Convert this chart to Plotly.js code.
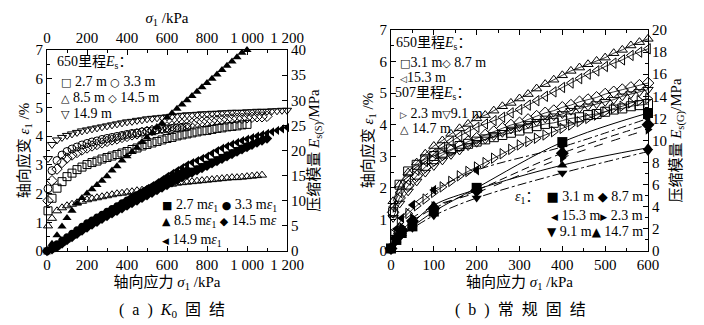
<!DOCTYPE html>
<html><head><meta charset="utf-8">
<script src="https://cdn.plot.ly/plotly-3.0.1.min.js"></script>
<style>html,body{margin:0;padding:0;background:#fff}#chart{width:704px;height:325px}</style>
</head><body><div id="chart"></div>
<script>
// ---------- Panel (a): K0 consolidation ----------
const sigmaEsA = [5,25,50,75,100,125,150,175,200,225,250,275,300,325,350,375,400,425,450,475,500,525,550,575,600,625,650,675,700,725,750,775,800,825,850,875,900,925,950,975,1000,1025,1050,1075,1100,1125,1150,1175,1200];
const sigmaEpsA = [0,25,50,75,100,125,150,175,200,225,250,275,300,325,350,375,400,425,450,475,500,525,550,575,600,625,650,675,700,725,750,775,800,825,850,875,900,925,950,975,1000,1025,1050,1075,1100,1125,1150,1175,1200];

// Es (MPa), right axis
const esA_27 = [8.0,10.5,12.5,13.8,14.8,15.5,16.2,16.7,17.2,17.6,17.9,18.3,18.6,18.9,19.2,19.5,19.8,20.2,20.5,20.9,21.2,21.5,21.8,22.1,22.4,22.6,22.9,23.1,23.3,23.5,23.7,23.9,24.0,24.2,24.4,24.5,24.7,24.8,24.9,25.1,25.2];
const esA_33 = [12.4,16.0,18.0,19.1,19.8,20.3,20.7,21.1,21.4,21.7,21.9,22.2,22.4,22.6,22.8,23.0,23.2,23.4,23.5,23.7,23.8,23.9,24.1,24.2,24.3,24.4,24.5,24.6,24.7];
const esA_85 = [5.0,6.5,8.0,8.6,9.0,9.3,9.6,9.9,10.2,10.4,10.6,10.8,11.0,11.2,11.4,11.5,11.7,11.8,12.0,12.1,12.3,12.5,12.8,13.0,13.2,13.3,13.5,13.6,13.7,13.8,13.9,14.0,14.1,14.2,14.3,14.4,14.5,14.6,14.6,14.7,14.8,14.9,15.0,15.1];
const esA_145 = [10.0,14.0,16.3,17.6,18.5,19.1,19.6,20.1,20.5,20.9,21.2,21.5,21.8,22.1,22.3,22.6,22.8,23.1,23.3,23.6,23.8,24.0,24.3,24.5,24.7,24.9,25.0,25.2,25.3,25.4,25.6,25.7,25.8,25.9,26.0,26.1,26.2,26.3,26.4,26.4,26.5,26.6,26.7,26.7,26.8];
const esA_149 = [18.4,21.2,22.1,22.6,23.0,23.3,23.6,23.9,24.1,24.3,24.5,24.7,24.9,25.1,25.3,25.5,25.7,25.8,26.0,26.1,26.3,26.4,26.5,26.6,26.7,26.8,26.9,27.0,27.1,27.1,27.2,27.3,27.3,27.4,27.4,27.5,27.5,27.6,27.6,27.6,27.7,27.7,27.8,27.8,27.8,27.9,27.9,28.0,28.0];

// axial strain (%), left axis
const epsA_27 = [0,0.08,0.18,0.3,0.42,0.54,0.66,0.78,0.9,1.0,1.1,1.2,1.3,1.39,1.48,1.57,1.66,1.75,1.84,1.93,2.02,2.1,2.18,2.27,2.36,2.45,2.54,2.62,2.7,2.78,2.86,2.94,3.02,3.1,3.18,3.26,3.34,3.42,3.5,3.58,3.65];
const epsA_33 = [0,0.12,0.25,0.38,0.5,0.62,0.74,0.86,0.98,1.08,1.18,1.28,1.38,1.48,1.58,1.68,1.78,1.87,1.96,2.05,2.14,2.23,2.32,2.41,2.5,2.58,2.66,2.74,2.82];
const epsA_85 = [0,0.25,0.55,0.85,1.15,1.4,1.65,1.85,2.0,2.15,2.3,2.45,2.6,2.8,2.95,3.15,3.3,3.45,3.6,3.8,3.95,4.1,4.3,4.45,4.65,4.8,4.95,5.1,5.25,5.4,5.55,5.7,5.85,6.0,6.15,6.3,6.45,6.6,6.75,6.9,7.0];
const epsA_145 = [0,0.06,0.14,0.26,0.38,0.49,0.6,0.71,0.82,0.92,1.02,1.12,1.22,1.31,1.4,1.49,1.58,1.67,1.76,1.85,1.94,2.03,2.12,2.21,2.3,2.39,2.48,2.57,2.65,2.73,2.81,2.89,2.97,3.05,3.13,3.21,3.3,3.38,3.46,3.54,3.62,3.7,3.78,3.85,3.92];
const epsA_149 = [0,0.1,0.2,0.32,0.45,0.57,0.7,0.82,0.95,1.05,1.15,1.25,1.35,1.45,1.56,1.67,1.78,1.88,1.98,2.08,2.18,2.28,2.38,2.49,2.6,2.7,2.8,2.9,3.0,3.08,3.15,3.23,3.3,3.4,3.5,3.58,3.65,3.72,3.78,3.84,3.9,3.95,4.0,4.05,4.1,4.15,4.2,4.25,4.3];

// ---------- Panel (b): conventional consolidation ----------
const sigmaEsB = [5,20,40,60,80,100,120,140,160,180,200,220,240,260,280,300,320,340,360,380,400,420,440,460,480,500,520,540,560,580,600];
const esB_31 = [3.5,6.0,7.2,7.8,8.3,8.6,8.9,9.2,9.5,9.7,9.9,10.1,10.3,10.5,10.7,10.9,11.1,11.3,11.5,11.6,11.8,12.0,12.1,12.3,12.4,12.6,12.8,12.9,13.1,13.2,13.3];
const esB_87 = [3.5,4.8,5.9,6.8,7.6,8.2,8.7,9.1,9.5,9.9,10.2,10.5,10.8,11.1,11.4,11.6,11.9,12.2,12.5,12.7,13.0,13.2,13.5,13.7,13.9,14.2,14.4,14.6,14.8,15.0,15.2];
const esB_153 = [4.0,5.3,6.4,7.3,8.1,8.8,9.4,9.9,10.4,10.8,11.2,11.5,11.8,12.1,12.5,12.8,13.2,13.6,14.0,14.4,14.8,15.2,15.6,16.0,16.3,16.7,17.0,17.3,17.7,18.0,18.3];
const esB_23 = [1.5,2.6,3.4,4.1,4.7,5.3,5.8,6.3,6.8,7.2,7.6,8.0,8.4,8.8,9.2,9.6,9.9,10.2,10.5,10.8,11.1,11.4,11.7,12.0,12.3,12.6,12.9,13.1,13.4,13.6,13.8];
const esB_91 = [3.0,4.3,5.4,6.3,7.1,7.7,8.2,8.7,9.1,9.5,9.8,10.1,10.4,10.7,11.0,11.2,11.5,11.7,12.0,12.2,12.4,12.7,12.9,13.1,13.3,13.5,13.7,14.0,14.2,14.4,14.6];
const esB_147 = [4.5,6.0,7.1,8.0,8.8,9.5,10.0,10.6,11.1,11.5,12.0,12.3,12.7,13.1,13.4,13.8,14.2,14.7,15.1,15.5,15.9,16.3,16.6,16.9,17.2,17.5,17.9,18.2,18.6,18.9,19.2];

const sigmaEpsB = [0,12.5,25,50,100,200,400,600];
const epsB_31 = [0.08,0.35,0.57,0.78,1.25,2.0,3.45,4.37];
const epsB_87 = [0.08,0.4,0.65,0.95,1.35,1.92,3.1,4.0];
const epsB_153 = [0.08,0.7,1.04,1.46,1.93,2.56,3.3,4.2];
const epsB_23 = [0.08,0.45,0.75,1.05,1.42,1.85,2.95,3.85];
const epsB_91 = [0.08,0.3,0.5,0.72,1.12,1.68,2.47,3.15];
const epsB_147 = [0.08,0.35,0.55,0.88,1.45,1.95,2.72,3.27];

const tickA = [0,200,400,600,800,1000,1200];
const tickAText = ['0','200','400','600','800','1 000','1 200'];

// ---------- build ----------
const SERIF = 'Liberation Serif, Noto Sans CJK SC, serif';
const traces = [];
function hollow(xs, ys, sym, xa, ya, size, withLine) {
  traces.push({type:'scatter', mode: withLine ? 'lines+markers' : 'markers',
    x: xs.slice(0, ys.length), y: ys, xaxis: xa, yaxis: ya, cliponaxis:false,
    line:{color:'#000', width:0.8, shape:'spline'},
    marker:{symbol: sym + '-open', size: size, color:'#000', line:{color:'#000', width:1}},
    showlegend:false, hoverinfo:'skip'});
}
function filled(xs, ys, sym, xa, ya, size, dash) {
  traces.push({type:'scatter', mode: dash ? 'lines+markers' : 'markers',
    x: xs.slice(0, ys.length), y: ys, xaxis: xa, yaxis: ya, cliponaxis:false,
    line:{color:'#000', width:1, dash: dash || 'solid', shape:'spline'},
    marker:{symbol: sym, size: size, color:'#000'},
    showlegend:false, hoverinfo:'skip'});
}
// panel (a)
hollow(sigmaEsA, esA_85, 'triangle-up', 'x', 'y2', 8);
hollow(sigmaEsA, esA_27, 'square', 'x', 'y2', 8);
hollow(sigmaEsA, esA_145, 'diamond', 'x', 'y2', 8);
hollow(sigmaEsA, esA_33, 'circle', 'x', 'y2', 8);
hollow(sigmaEsA, esA_149, 'triangle-down', 'x', 'y2', 8);
filled(sigmaEpsA, epsA_145, 'diamond', 'x', 'y', 8);
filled(sigmaEpsA, epsA_33, 'circle', 'x', 'y', 7);
filled(sigmaEpsA, epsA_27, 'square', 'x', 'y', 7);
filled(sigmaEpsA, epsA_149, 'triangle-left', 'x', 'y', 8);
filled(sigmaEpsA, epsA_85, 'triangle-up', 'x2', 'y', 8);
// panel (b)
hollow(sigmaEsB, esB_23, 'triangle-right', 'x3', 'y4', 9, true);
hollow(sigmaEsB, esB_31, 'square', 'x3', 'y4', 9, true);
hollow(sigmaEsB, esB_91, 'triangle-down', 'x3', 'y4', 9, true);
hollow(sigmaEsB, esB_87, 'diamond', 'x3', 'y4', 9, true);
hollow(sigmaEsB, esB_153, 'triangle-left', 'x3', 'y4', 9, true);
hollow(sigmaEsB, esB_147, 'triangle-up', 'x3', 'y4', 9, true);
filled(sigmaEpsB, epsB_31, 'square', 'x3', 'y3', 10, 'solid');
filled(sigmaEpsB, epsB_87, 'diamond', 'x3', 'y3', 10, '8px,4px');
filled(sigmaEpsB, epsB_153, 'triangle-left', 'x3', 'y3', 9, 'dashdot');
filled(sigmaEpsB, epsB_23, 'triangle-right', 'x3', 'y3', 9, 'dash');
filled(sigmaEpsB, epsB_91, 'triangle-down', 'x3', 'y3', 9, 'dashdot');
filled(sigmaEpsB, epsB_147, 'triangle-up', 'x3', 'y3', 9, 'solid');

const W = 704, H = 325;
const px = v => v / W, py = v => 1 - v / H;
const base = {showline:true, linecolor:'#000', linewidth:1, ticks:'inside', ticklen:5, tickcolor:'#000',
  showgrid:false, zeroline:false, tickfont:{family:SERIF, size:15, color:'#000'}};
const tfont = {family:SERIF, size:15, color:'#000'};

const layout = {
  width:W, height:H, margin:{l:0,r:0,t:0,b:0}, paper_bgcolor:'#fff', plot_bgcolor:'rgba(0,0,0,0)',
  font:{family:SERIF, color:'#000'},
  xaxis: Object.assign({}, base, {domain:[px(47), px(287)], anchor:'y', range:[0,1200],
    tickvals:tickA, ticktext:tickAText, minor:{dtick:100, ticks:'inside', ticklen:3, tickcolor:'#000'},
    title:{text:'轴向应力 <i>σ</i><sub>1</sub> /kPa', font:tfont, standoff:2}}),
  xaxis2: Object.assign({}, base, {overlaying:'x', matches:'x', side:'top', anchor:'y', range:[0,1200],
    tickvals:tickA, ticktext:tickAText, minor:{dtick:100, ticks:'inside', ticklen:3, tickcolor:'#000'},
    title:{text:'<i>σ</i><sub>1</sub> /kPa', font:tfont, standoff:2}}),
  yaxis: Object.assign({}, base, {domain:[py(251), py(50)], anchor:'x', range:[0,7], dtick:1,
    minor:{dtick:0.5, ticks:'inside', ticklen:3, tickcolor:'#000'},
    title:{text:'轴向应变 <i>ε</i><sub>1</sub> /%', font:tfont, standoff:2}}),
  yaxis2: Object.assign({}, base, {overlaying:'y', side:'right', anchor:'x', range:[0,40], dtick:5,
    title:{text:'压缩模量 <i>E</i><sub>s(S)</sub>/MPa', font:tfont, standoff:2}}),
  xaxis3: Object.assign({}, base, {domain:[px(391), px(648)], anchor:'y3', range:[0,600], dtick:100, mirror:'ticks',
    minor:{dtick:50, ticks:'inside', ticklen:3, tickcolor:'#000'},
    title:{text:'轴向应力 <i>σ</i><sub>1</sub> /kPa', font:tfont, standoff:2}}),
  yaxis3: Object.assign({}, base, {domain:[py(251), py(30)], anchor:'x3', range:[0,7], dtick:1,
    minor:{dtick:0.5, ticks:'inside', ticklen:3, tickcolor:'#000'},
    title:{text:'轴向应变 <i>ε</i><sub>1</sub> /%', font:tfont, standoff:2}}),
  yaxis4: Object.assign({}, base, {overlaying:'y3', side:'right', anchor:'x3', range:[0,20], dtick:2,
    minor:{dtick:1, ticks:'inside', ticklen:3, tickcolor:'#000'},
    title:{text:'压缩模量 <i>E</i><sub>s(G)</sub>/MPa', font:tfont, standoff:2}}),
  annotations: []
};
function note(text, x, y, anchor, size) {
  layout.annotations.push({text:text, xref:'paper', yref:'paper', x:px(x), y:py(y),
    xanchor:anchor || 'left', yanchor:'middle', showarrow:false,
    font:{family:SERIF, size:size || 14, color:'#000'}});
}
const S = (g, fs) => '<span style="font-family:DejaVu Sans;font-size:' + (fs || 11) + 'px">' + g + '</span>';
const e1 = '<i>ε</i><sub>1</sub>';
// legends (a)
note('650里程<i>E</i><sub>s</sub>：', 55, 63);
note(S('□') + ' 2.7 m ' + S('○') + ' 3.3 m', 59, 81);
note(S('△') + ' 8.5 m ' + S('◇') + ' 14.5 m', 59, 97);
note(S('▽') + ' 14.9 m', 59, 113);
note(S('■') + ' 2.7 m' + e1 + ' ' + S('●') + ' 3.3 m' + e1, 160, 205);
note(S('▲') + ' 8.5 m' + e1 + ' ' + S('◆') + ' 14.5 m<i>ε</i>', 160, 222);
note(S('◀', 9) + ' 14.9 m' + e1, 160, 240);
// legends (b)
note('650里程<i>E</i><sub>s</sub>：', 394, 43);
note(S('□') + '3.1 m' + S('◇') + ' 8.7 m', 398, 62);
note(S('◁', 9) + '15.3 m', 398, 77);
note('507里程<i>E</i><sub>s</sub>：', 393, 94);
note(S('▷', 9) + ' 2.3 m' + S('▽') + '9.1 m', 398, 113);
note(S('△') + ' 14.7 m', 398, 128);
note(e1 + '：  ' + S('■', 13) + ' 3.1 m ' + S('◆', 13) + ' 8.7 m', 645, 197, 'right');
note(S('◀', 9) + ' 15.3 m' + S('▶', 9) + ' 2.3 m', 645, 215, 'right');
note(S('▼', 12) + ' 9.1 m' + S('▲', 12) + ' 14.7 m', 645, 232, 'right');
// captions
note('(  a  )  <i>K</i><sub>0</sub>  固  结', 172, 310, 'center', 16);
note('(  b  )  常  规  固  结', 520, 310, 'center', 16);

Plotly.newPlot('chart', traces, layout, {staticPlot:true, displayModeBar:false});
</script></body></html>
